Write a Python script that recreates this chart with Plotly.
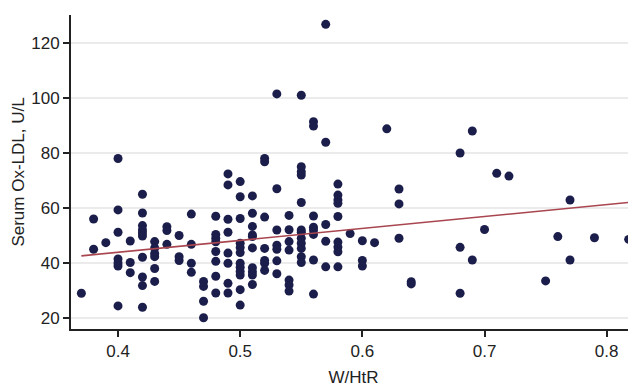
import plotly.graph_objects as go

# W/HtR columns and Serum Ox-LDL values (U/L)
whtr_groups = [0.37, 0.38, 0.39, 0.40, 0.41, 0.42, 0.43, 0.44, 0.45, 0.46,
               0.47, 0.48, 0.49, 0.50, 0.51, 0.52, 0.53, 0.54, 0.55, 0.56,
               0.57, 0.58, 0.59, 0.60, 0.61, 0.62, 0.63, 0.64, 0.68, 0.69,
               0.70, 0.71, 0.72, 0.75, 0.76, 0.77, 0.79, 0.818]
oxldl_groups = [
    [29],
    [56, 45],
    [47.4],
    [78, 59.3, 51.2, 41.5, 40, 38.9, 24.4],
    [48, 40.2, 36.5],
    [65, 58.2, 53.6, 52, 50.9, 49.8, 42.1, 34.9, 31.8, 23.9],
    [47.8, 45.5, 43.5, 42.3, 38, 33.3],
    [53.2, 51.8, 46.8],
    [50, 42.3, 40.9],
    [57.8, 46.8, 39.9, 36.6],
    [33.3, 31.5, 26.1, 20.1],
    [57, 50.4, 49, 47.7, 44.2, 40.6, 35.2, 29.1],
    [72.4, 68.4, 55.9, 51.2, 43.6, 39.9, 32.6, 29.1],
    [69.6, 64.1, 56.2, 47.2, 45.6, 43.8, 39.9, 38.5, 36.9, 35.6, 30.3, 24.7],
    [64.4, 58.1, 53.3, 50.2, 49.6, 45.5, 38.3, 36.8, 35.6, 32.2],
    [78, 76.8, 56.7, 45.3, 40.9, 39.9, 37.3],
    [101.5, 67, 52, 46.5, 45, 40.8, 36.1],
    [57.3, 52.1, 47.8, 44.7, 33.8, 32, 29.8],
    [101, 75, 73.2, 72, 62, 52, 51.2, 49, 47.2, 45.3, 42.3, 40.2],
    [91.4, 89.8, 57.1, 53, 52, 50.4, 41.1, 28.7],
    [126.8, 83.9, 54, 47.9, 38.6],
    [68.7, 64.7, 62.9, 61.7, 56.9, 47.6, 45.8, 44.1, 38.6],
    [50.7],
    [48.1, 40.9, 38.9],
    [47.4],
    [88.8],
    [66.9, 61.5, 49],
    [33.2, 32.4],
    [80, 45.7, 29],
    [88, 41.1],
    [52.2],
    [72.6],
    [71.6],
    [33.5],
    [49.6],
    [62.9, 41.1],
    [49.2],
    [48.6],
]

# Fitted line
fit_x = [0.37, 0.82]
fit_y = [42.6, 62.1]

x_ticks = [0.4, 0.5, 0.6, 0.7, 0.8]
y_ticks = [20, 40, 60, 80, 100, 120]

xs, ys = [], []
for gx, vals in zip(whtr_groups, oxldl_groups):
    for v in vals:
        xs.append(gx)
        ys.append(v)

fig = go.Figure()
fig.add_trace(go.Scatter(
    x=xs, y=ys, mode="markers",
    marker=dict(color="#1b1e4a", size=9, line=dict(width=0)),
    showlegend=False, hoverinfo="skip", cliponaxis=False))
fig.add_trace(go.Scatter(
    x=fit_x, y=fit_y, mode="lines",
    line=dict(color="#a8454f", width=1.6),
    showlegend=False, hoverinfo="skip"))

font_family = "Liberation Sans, Arial, sans-serif"
# The page body adds an 8px offset, so the figure is 8px smaller
fig.update_layout(
    width=628, height=379,
    margin=dict(l=63, r=0, t=7, b=58),
    paper_bgcolor="white", plot_bgcolor="white",
    font=dict(family=font_family, size=17, color="#222222"),
    xaxis=dict(
        range=[0.3615, 0.824], tickvals=x_ticks,
        ticktext=[f"{t:.1f}" for t in x_ticks],
        showgrid=False, zeroline=False,
        showline=True, linecolor="#222222", linewidth=2,
        ticks="outside", ticklen=6, tickwidth=1.5, tickcolor="#222222",
        title=dict(text="W/HtR", font=dict(size=17), standoff=14),
    ),
    yaxis=dict(
        range=[16, 130.2], tickvals=y_ticks,
        showgrid=True, gridcolor="#ebebeb", gridwidth=1.5,
        zeroline=False,
        showline=True, linecolor="#222222", linewidth=2,
        ticks="outside", ticklen=6, tickwidth=1.5, tickcolor="#222222",
        title=dict(text="Serum Ox-LDL, U/L", font=dict(size=17), standoff=2),
    ),
)

fig.write_html("out.html")
